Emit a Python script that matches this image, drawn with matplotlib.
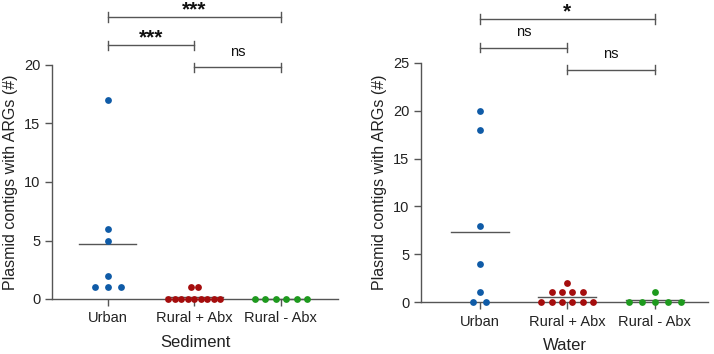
import numpy as np
import matplotlib
matplotlib.use("Agg")
import matplotlib.pyplot as plt

plt.rcParams['font.family'] = ['Liberation Sans', 'DejaVu Sans']

# Data
groups = ["Urban", "Rural + Abx", "Rural - Abx"]
colors = ["#0f5ba7", "#a50d0d", "#1e9a1e"]

sediment_urban = [17, 6, 5, 2, 1, 1, 1]
sediment_rural_abx = [1, 1, 0, 0, 0, 0, 0, 0, 0, 0, 0]
sediment_rural_noabx = [0, 0, 0, 0, 0, 0]

water_urban = [20, 18, 8, 4, 1, 0, 0]
water_rural_abx = [2, 1, 1, 1, 1, 0, 0, 0, 0, 0, 0]
water_rural_noabx = [1, 0, 0, 0, 0, 0]

sediment_sig = [("***", 0, 2), ("***", 0, 1), ("ns", 1, 2)]
water_sig = [("*", 0, 2), ("ns", 0, 1), ("ns", 1, 2)]

fig = plt.figure(figsize=(7.14, 3.54), dpi=100)
W, H = 714, 354
GRAY = "#555555"


def spread(values, px_per_unit):
    # Prism-like horizontal spread of points sharing a value
    vals = np.array(values, dtype=float)
    uniq, counts = np.unique(vals, return_counts=True)
    step = min(13.0, 52.0 / max(counts.max() - 1, 1))
    offs = np.zeros(len(vals))
    for u, c in zip(uniq, counts):
        idx = np.where(vals == u)[0]
        offs[idx] = (np.arange(c) - (c - 1) / 2) * step
    return offs / px_per_unit


def panel(rect, data, ymax, yticks, xlim, xlabel, sig, sig_y, txt_off):
    ax = fig.add_axes(rect)
    ax.set_xlim(*xlim)
    ax.set_ylim(0, ymax)
    px_per_unit = rect[2] * W / (xlim[1] - xlim[0])
    for i, (vals, c) in enumerate(zip(data, colors)):
        m = np.mean(vals)
        ax.plot([i - 0.33, i + 0.33], [m, m], color=GRAY, lw=1.0, zorder=2,
                clip_on=False)
        ax.scatter(i + spread(vals, px_per_unit), vals, s=24, color=c,
                   zorder=3, clip_on=False, linewidths=0)
    for s in ["top", "right"]:
        ax.spines[s].set_visible(False)
    for s in ["left", "bottom"]:
        ax.spines[s].set_color(GRAY)
        ax.spines[s].set_linewidth(1.0)
    ax.set_yticks(yticks)
    ax.set_xticks(range(3))
    ax.set_xticklabels(groups)
    ax.tick_params(axis="both", colors=GRAY, length=5, width=1.0,
                   labelcolor="#222222", labelsize=10.5)
    ax.tick_params(axis="x", pad=4)
    ax.set_ylabel("Plasmid contigs with ARGs (#)", fontsize=11.5,
                  color="#222222", labelpad=4)
    ax.set_xlabel(xlabel, fontsize=12, color="#222222", labelpad=7)
    dy = ymax * 0.013
    for (label, a, b), y, off in zip(sig, sig_y, txt_off):
        ax.plot([a, b], [y, y], color=GRAY, lw=1.0, clip_on=False)
        for xx in (a, b):
            ax.plot([xx, xx], [y - 1.5 * dy, y + 1.5 * dy], color=GRAY,
                    lw=1.0, clip_on=False)
        bold = "*" in label
        ax.annotate(label, ((a + b) / 2, y), xytext=(0, off),
                    textcoords="offset points", ha="center", va="center",
                    fontsize=15 if bold else 10.5,
                    fontweight="bold" if bold else "normal",
                    color="#111111", annotation_clip=False)
    return ax


panel([52 / W, 55 / H, 286 / W, 234 / H],
      [sediment_urban, sediment_rural_abx, sediment_rural_noabx],
      20, [0, 5, 10, 15, 20], (-0.647, 2.66), "Sediment",
      sediment_sig, [24.1, 21.7, 19.8], [5, 5, 11])

panel([421 / W, 52 / H, 287 / W, 239 / H],
      [water_urban, water_rural_abx, water_rural_noabx],
      25, [0, 5, 10, 15, 20, 25], (-0.674, 2.61), "Water",
      water_sig, [29.6, 26.6, 24.3], [5, 11, 11])

fig.savefig("out.png", dpi=100)
